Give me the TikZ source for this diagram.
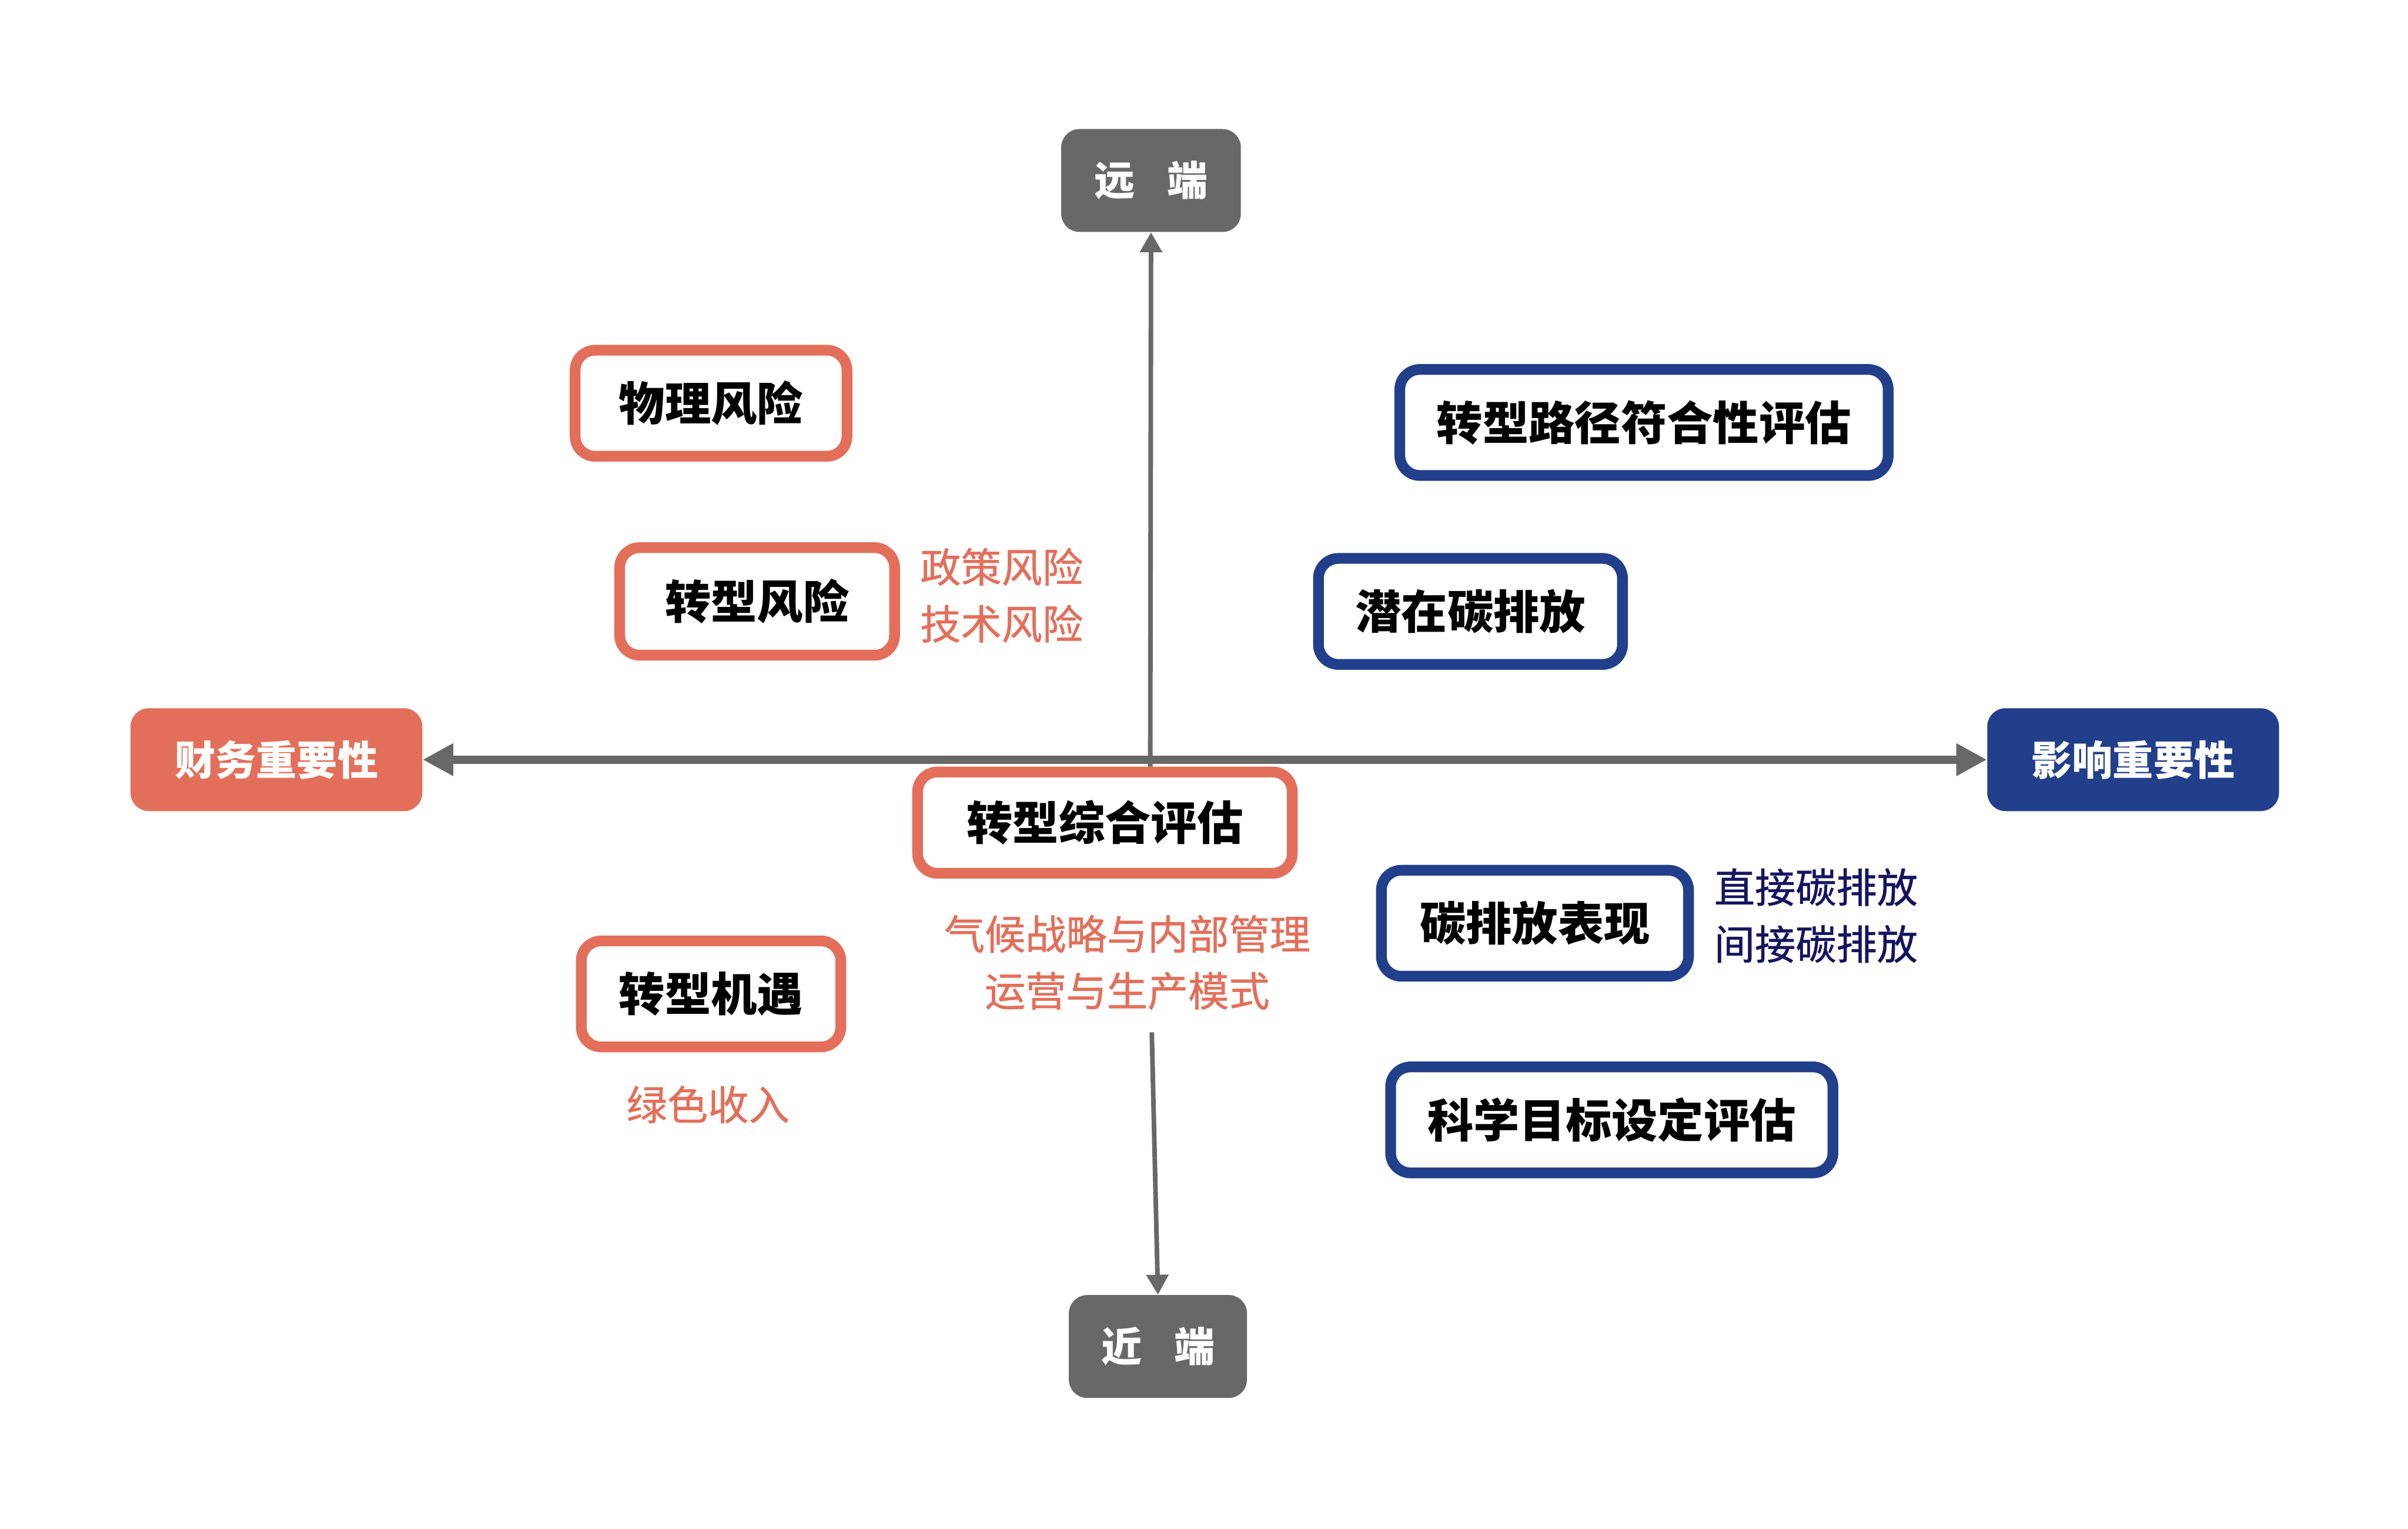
\documentclass[tikz,border=0pt]{standalone}
\usepackage{fontspec}
\newfontfamily\cjk{Noto Sans CJK SC}
\newfontfamily\cjkmed[FakeBold=0.8]{Noto Sans CJK SC}
\usetikzlibrary{arrows.meta}
\definecolor{axisgray}{HTML}{686868}
\definecolor{coral}{HTML}{E36F5A}
\definecolor{deepblue}{HTML}{213F8A}
\definecolor{navytext}{RGB}{20,20,96}
\begin{document}
\begin{tikzpicture}[x=1pt,y=-1pt,
  fillbox/.style={rounded corners=12pt, inner sep=0pt, minimum height=67pt, text=white,
    font=\cjk\bfseries\fontsize{26.5}{30}\selectfont},
  outbox/.style={rounded corners=13pt, inner sep=0pt, minimum height=69pt, line width=7pt,
    fill=white, text=black, font=\cjk\bfseries\fontsize{30}{36}\selectfont},
  redbox/.style={outbox, draw=coral},
  bluebox/.style={outbox, draw=deepblue},
  note/.style={inner sep=0pt, font=\cjkmed\fontsize{26.5}{37}\selectfont},
  haxis/.style={draw=axisgray, line width=5.5pt,
    {Triangle[length=20pt,width=20pt]}-{Triangle[length=20pt,width=20pt]}},
  vaxis/.style={draw=axisgray, line width=3pt, -{Triangle[length=13pt,width=14pt]}},
]
\useasboundingbox (0,0) rectangle (1568,995);
\fill[white] (0,0) rectangle (1568,995);

% axis end nodes
\node[fillbox, fill=axisgray, minimum width=117pt] (far) at (749.5,117.5) {远\hspace{21pt}端};
\node[fillbox, fill=axisgray, minimum width=116pt] (near) at (754,876.5) {近\hspace{21pt}端};
\node[fillbox, fill=coral, minimum width=190pt] (fin) at (180,494.5) {财务重要性};
\node[fillbox, fill=deepblue, minimum width=190pt] (imp) at (1389,494.5) {影响重要性};

% red boxes
\node[redbox, minimum width=177pt] (phys) at (463,262.5) {物理风险};
\node[redbox, minimum width=179pt, minimum height=70pt] (trisk) at (493,391.5) {转型风险};
\node[redbox, minimum width=244pt, minimum height=66pt] (tcomp) at (719.5,535.5) {转型综合评估};
\node[redbox, minimum width=169pt] (topp) at (463,647) {转型机遇};

% blue boxes
\node[bluebox, minimum width=318pt] (path) at (1070.5,275) {转型路径符合性评估};
\node[bluebox, minimum width=198pt] (pot) at (957.5,398) {潜在碳排放};
\node[bluebox, minimum width=200pt] (carb) at (999.5,601) {碳排放表现};
\node[bluebox, minimum width=288pt] (sbt) at (1049.5,729) {科学目标设定评估};

% notes
\node[note, text=coral, anchor=west, align=left] (risknote) at (599,387.5) {政策风险\\技术风险};
\node[note, text=coral, align=center] (compnote) at (734,626.5) {气候战略与内部管理\\运营与生产模式};
\node[note, text=coral] (oppnote) at (461,719) {绿色收入};
\node[note, text=navytext, anchor=west, align=left] (carbnote) at (1116,596) {直接碳排放\\间接碳排放};

% axes
\coordinate (cross) at (749,499);
\coordinate (lowstart) at (750,672);
\draw[haxis] (fin.east) -- (imp.west);
\draw[vaxis] (cross) -- (far.south);
\draw[vaxis] (lowstart) -- (near.north);
\end{tikzpicture}
\end{document}
